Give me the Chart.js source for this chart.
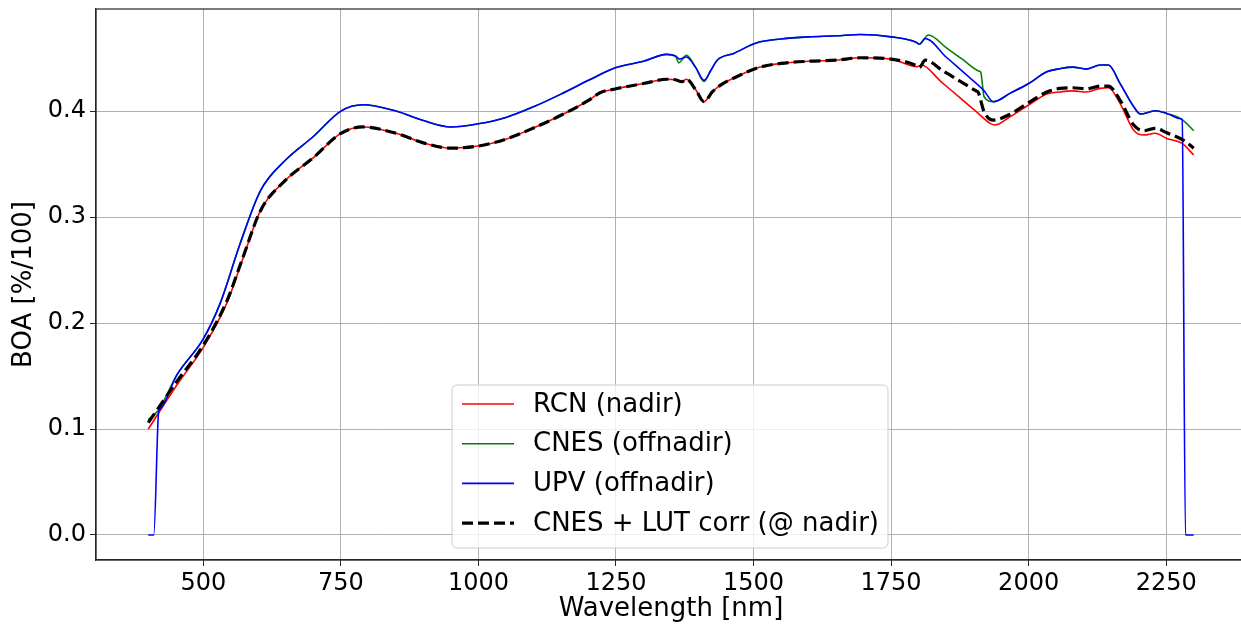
<!DOCTYPE html>
<html lang="en">
<head>
<meta charset="utf-8">
<title>BOA spectra</title>
<script src="https://cdn.jsdelivr.net/npm/chart.js@4.4.1/dist/chart.umd.min.js"></script>
<style>
  html, body { margin: 0; padding: 0; background: #fff; overflow: hidden; }
  #wrap { width: 1260px; height: 626px; }
</style>
</head>
<body>
<div id="wrap"><canvas id="chart" width="1260" height="626"></canvas></div>
<script>
// wavelength [nm] / BOA reflectance
const rcnWl = [400, 452, 500, 543, 570, 604, 650, 700, 750, 790, 850, 900, 950, 1000, 1050, 1100, 1150, 1200, 1221, 1250, 1300, 1343, 1358, 1370, 1378, 1395, 1410, 1425, 1440, 1476, 1509, 1550, 1600, 1650, 1694, 1750, 1797, 1805, 1840, 1875, 1905, 1930, 1939, 1966, 2000, 2033, 2057, 2080, 2105, 2130, 2145, 2166, 2191, 2209, 2230, 2251, 2279, 2300];
const rcnVal = [0.100, 0.1415, 0.177, 0.219, 0.258, 0.306, 0.335, 0.356, 0.379, 0.385, 0.379, 0.370, 0.365, 0.367, 0.3735, 0.384, 0.396, 0.410, 0.4173, 0.421, 0.426, 0.430, 0.4295, 0.4278, 0.430, 0.420, 0.4088, 0.418, 0.4245, 0.434, 0.441, 0.445, 0.447, 0.448, 0.4503, 0.449, 0.4418, 0.4435, 0.4281, 0.4126, 0.3994, 0.3884, 0.3868, 0.3946, 0.4057, 0.416, 0.418, 0.419, 0.418, 0.4214, 0.422, 0.4073, 0.382, 0.3774, 0.379, 0.3742, 0.3695, 0.3585];

const cnesWl = [400, 419, 421, 452, 500, 531, 567, 604, 650, 700, 750, 790, 850, 900, 950, 1000, 1050, 1100, 1150, 1200, 1250, 1300, 1342, 1358, 1364, 1378, 1395, 1410, 1422, 1434, 1464, 1506, 1550, 1600, 1650, 1694, 1750, 1797, 1801, 1818, 1850, 1880, 1910, 1913, 1919, 1936, 1966, 2000, 2033, 2057, 2080, 2105, 2130, 2145, 2166, 2191, 2203, 2230, 2251, 2279, 2300];
const cnesVal = [0.1087, 0.118, 0.1195, 0.151, 0.185, 0.219, 0.275, 0.325, 0.354, 0.376, 0.400, 0.406, 0.400, 0.391, 0.385, 0.388, 0.394, 0.404, 0.416, 0.429, 0.441, 0.447, 0.4535, 0.452, 0.4455, 0.4525, 0.441, 0.428, 0.438, 0.448, 0.4544, 0.4645, 0.468, 0.470, 0.471, 0.4723, 0.470, 0.4645, 0.463, 0.4717, 0.4598, 0.4487, 0.4376, 0.4365, 0.4135, 0.4088, 0.4167, 0.426, 0.437, 0.440, 0.4415, 0.4396, 0.4434, 0.4434, 0.4261, 0.404, 0.3972, 0.4003, 0.3978, 0.392, 0.3814];

const upvWl = [400, 410, 419, 421, 452, 500, 531, 567, 604, 650, 700, 750, 790, 850, 900, 950, 1000, 1050, 1100, 1150, 1200, 1250, 1300, 1342, 1358, 1366, 1378, 1395, 1410, 1422, 1434, 1464, 1506, 1550, 1600, 1650, 1694, 1750, 1797, 1801, 1812, 1850, 1885, 1918, 1936, 1966, 2000, 2033, 2057, 2080, 2105, 2130, 2145, 2166, 2191, 2203, 2230, 2251, 2276, 2279, 2285, 2300];
const upvVal = [0, 0, 0.117, 0.1185, 0.151, 0.185, 0.219, 0.275, 0.325, 0.354, 0.376, 0.400, 0.406, 0.400, 0.391, 0.385, 0.388, 0.394, 0.404, 0.416, 0.429, 0.441, 0.447, 0.4535, 0.452, 0.449, 0.451, 0.441, 0.429, 0.438, 0.448, 0.4544, 0.4645, 0.468, 0.470, 0.471, 0.4723, 0.470, 0.4645, 0.463, 0.4685, 0.4510, 0.4350, 0.4198, 0.4088, 0.4167, 0.426, 0.437, 0.440, 0.4415, 0.4396, 0.4434, 0.4434, 0.4261, 0.404, 0.3972, 0.4003, 0.3978, 0.3928, 0.392, 0, 0];

const lutWl = [400, 452, 500, 543, 570, 604, 650, 700, 750, 790, 850, 900, 950, 1000, 1050, 1100, 1150, 1200, 1221, 1250, 1300, 1343, 1358, 1370, 1378, 1395, 1410, 1425, 1440, 1476, 1509, 1550, 1600, 1650, 1694, 1750, 1797, 1801, 1812, 1845, 1878, 1905, 1908, 1919, 1936, 1966, 2000, 2033, 2057, 2080, 2105, 2130, 2145, 2166, 2191, 2209, 2230, 2251, 2281, 2300];
const lutVal = [0.106, 0.145, 0.179, 0.221, 0.259, 0.306, 0.335, 0.356, 0.379, 0.385, 0.379, 0.370, 0.365, 0.367, 0.3735, 0.384, 0.396, 0.410, 0.4173, 0.421, 0.426, 0.430, 0.4295, 0.4278, 0.430, 0.420, 0.4088, 0.418, 0.4245, 0.434, 0.441, 0.445, 0.447, 0.448, 0.4503, 0.449, 0.4425, 0.441, 0.448, 0.4377, 0.4274, 0.4189, 0.418, 0.3993, 0.3915, 0.397, 0.408, 0.418, 0.4214, 0.422, 0.421, 0.4236, 0.4236, 0.4104, 0.3868, 0.3814, 0.3837, 0.3795, 0.3726, 0.365];

const xTicks = [500, 750, 1000, 1250, 1500, 1750, 2000, 2250];
const yTicks = [0, 0.1, 0.2, 0.3, 0.4];

const FONT = "'DejaVu Sans', sans-serif";

function pairs(xs, ys) {
  return xs.map((x, i) => ({ x: x, y: ys[i] }));
}

// frame on all four sides + legend box inside the plot (matplotlib style)
const framePlugin = {
  id: 'frame',
  afterDraw(chart) {
    const { ctx, chartArea: a } = chart;
    ctx.save();
    ctx.strokeStyle = '#262626';
    ctx.lineWidth = 1.2;
    ctx.strokeRect(a.left, a.top, a.right - a.left, a.bottom - a.top);

    // legend
    const bx = 452, by = 385, bw = 436, bh = 163, r = 5;
    ctx.beginPath();
    ctx.moveTo(bx + r, by);
    ctx.arcTo(bx + bw, by, bx + bw, by + bh, r);
    ctx.arcTo(bx + bw, by + bh, bx, by + bh, r);
    ctx.arcTo(bx, by + bh, bx, by, r);
    ctx.arcTo(bx, by, bx + bw, by, r);
    ctx.closePath();
    ctx.fillStyle = 'rgba(255,255,255,0.8)';
    ctx.fill();
    ctx.strokeStyle = '#cccccc';
    ctx.lineWidth = 1;
    ctx.stroke();

    ctx.font = '26px ' + FONT;
    ctx.textBaseline = 'middle';
    ctx.fillStyle = '#000';
    chart.data.datasets.forEach((ds, i) => {
      const y = 404 + i * 39.7;
      ctx.beginPath();
      ctx.strokeStyle = ds.borderColor;
      ctx.lineWidth = ds.borderWidth;
      ctx.setLineDash(ds.borderDash || []);
      ctx.moveTo(462, y);
      ctx.lineTo(514, y);
      ctx.stroke();
      ctx.setLineDash([]);
      ctx.fillText(ds.label, 533, y + 1);
    });
    ctx.restore();
  }
};

new Chart(document.getElementById('chart'), {
  type: 'line',
  data: {
    datasets: [
      { label: 'RCN (nadir)', data: pairs(rcnWl, rcnVal), borderColor: '#ff0000', borderWidth: 1.6, order: 3 },
      { label: 'CNES (offnadir)', data: pairs(cnesWl, cnesVal), borderColor: '#008000', borderWidth: 1.6, order: 2 },
      { label: 'UPV (offnadir)', data: pairs(upvWl, upvVal), borderColor: '#0000ff', borderWidth: 1.6, order: 1 },
      { label: 'CNES + LUT corr (@ nadir)', data: pairs(lutWl, lutVal), borderColor: '#000000', borderWidth: 3.2, borderDash: [11, 5], order: 0 }
    ]
  },
  options: {
    responsive: false,
    animation: false,
    devicePixelRatio: 1,
    layout: { padding: { top: 9, right: 14, left: 0, bottom: 0 } },
    elements: {
      point: { radius: 0 },
      line: { fill: false, cubicInterpolationMode: 'monotone' }
    },
    plugins: {
      legend: { display: false },
      tooltip: { enabled: false }
    },
    scales: {
      x: {
        type: 'linear',
        min: 305,
        max: 2395,
        afterBuildTicks: s => { s.ticks = xTicks.map(v => ({ value: v })); },
        afterFit: s => { s.height = 66; s.paddingLeft = 0; s.paddingRight = 0; },
        ticks: { color: '#000', font: { family: FONT, size: 24 }, padding: 3, maxRotation: 0, autoSkip: false, callback: v => String(v) },
        grid: { color: '#b0b0b0', lineWidth: 1, tickLength: 6, tickColor: '#262626' },
        border: { color: '#262626', width: 1.2 },
        title: { display: true, text: 'Wavelength [nm]', color: '#000', font: { family: FONT, size: 26 }, padding: { top: 0, bottom: 1 } }
      },
      y: {
        type: 'linear',
        min: -0.0236,
        max: 0.4963,
        afterBuildTicks: s => { s.ticks = yTicks.map(v => ({ value: v })); },
        afterFit: s => { s.width = 96; s.paddingTop = 0; s.paddingBottom = 0; },
        ticks: { color: '#000', font: { family: FONT, size: 24 }, padding: 4, callback: v => v.toFixed(1) },
        grid: { color: '#b0b0b0', lineWidth: 1, tickLength: 6, tickColor: '#262626' },
        border: { color: '#262626', width: 1.2 },
        title: { display: true, text: 'BOA [%/100]', color: '#000', font: { family: FONT, size: 26 }, padding: { top: 9, bottom: 0 } }
      }
    }
  },
  plugins: [framePlugin]
});
</script>
</body>
</html>
